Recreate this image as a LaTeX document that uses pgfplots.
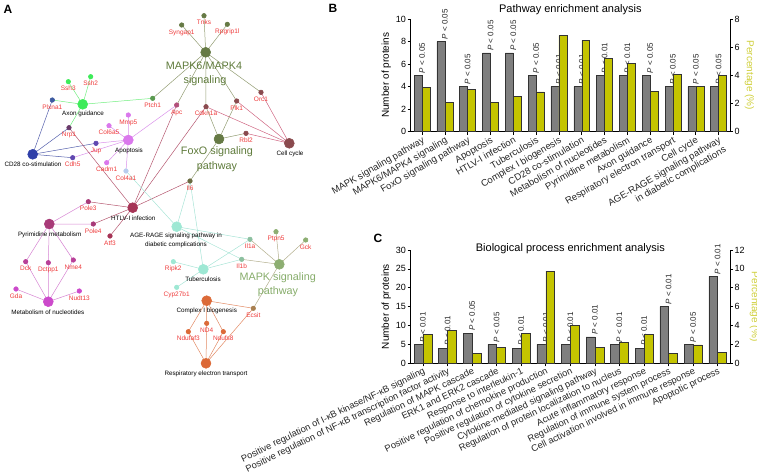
\documentclass[border=0pt]{standalone}
\usepackage{pgfplots}
\pgfplotsset{compat=1.18}
\usepackage{pgfplotstable}
\usepackage{fontspec}
\setmainfont{Liberation Sans}

% network colours
\definecolor{olv}{HTML}{667A45}
\definecolor{olvtxt}{HTML}{5E7A3A}
\definecolor{olvedge}{HTML}{929C72}
\definecolor{grn}{HTML}{3EEB5A}
\definecolor{grnedge}{HTML}{72EE80}
\definecolor{blu}{HTML}{2F3FA8}
\definecolor{bluedge}{HTML}{5560AC}
\definecolor{vio}{HTML}{DA78EC}
\definecolor{vioedge}{HTML}{DA92EA}
\definecolor{crm}{HTML}{A63456}
\definecolor{crmedge}{HTML}{B4566E}
\definecolor{ccedge}{HTML}{CF6682}
\definecolor{dkr}{HTML}{8A4A4E}
\definecolor{pmg}{HTML}{A83A78}
\definecolor{pmgn}{HTML}{B84098}
\definecolor{mgt}{HTML}{CC4ACB}
\definecolor{mgtedge}{HTML}{D684D2}
\definecolor{cyn}{HTML}{9EE8D4}
\definecolor{cynedge}{HTML}{A8E4D6}
\definecolor{lgr}{HTML}{8DAE72}
\definecolor{lgrtxt}{HTML}{86AC6A}
\definecolor{lgredge}{HTML}{B2AE8C}
\definecolor{org}{HTML}{DC6A38}
\definecolor{orgedge}{HTML}{E28A64}
\definecolor{ptc}{HTML}{5A9A50}
\definecolor{apc}{HTML}{B2507A}
\definecolor{nrp}{HTML}{6A3A6A}
\definecolor{jup}{HTML}{6048B0}
\definecolor{c4a}{HTML}{B8CCEE}
\definecolor{il6}{HTML}{6A6A40}
\definecolor{il1}{HTML}{8CC0A0}
\definecolor{ecs}{HTML}{A88050}
\definecolor{plx}{HTML}{3D5AA0}
\definecolor{genred}{HTML}{EE3B3B}
% bar colours
\definecolor{barg}{HTML}{7F7F7F}
\definecolor{bary}{HTML}{C4C400}
\definecolor{bard}{HTML}{333333}
\definecolor{ylab}{HTML}{CFCF3A}

\pgfplotsset{/pgf/number format/assume math mode=true}

\newcommand{\genefont}{\fontsize{6.5}{7.5}\selectfont}
\newcommand{\hubfont}{\fontsize{6.3}{7.5}\selectfont}
\newcommand{\bigfont}{\fontsize{10.8}{13}\selectfont}

% gene nodes (pixel coordinates)
\pgfplotstableread{
x y c lab
204 15.7 ol Tnks
181.7 25 ol Syngap1
227.3 24.3 ol Rpgrip1l
68.3 81.7 gr Ssh3
90.7 76.7 gr Ssh2
52.3 100 px Plxna1
152.7 98.3 pt Ptch1
176.7 105 ap Apc
206 106.7 dk Cdkn1a
236.7 101 dk Plk1
261 92.3 dk Orc1
246 133.3 dk Rbl2
69 127.7 nr Nrp1
128.3 115 vi Mmp5
109 125.7 vi Col6a5
96 143.3 ju Jup
72.7 157.7 ju Cdh5
106.7 162.7 vi Cadm1
126 171 ca Col4a1
190 181 i6 Il6
88.3 201.7 pm Pole3
93.3 224 pm Pole4
110 236 cr Atf3
25.7 261.7 pn Dck
48.3 262.7 pn Dctpp1
73.3 260 pn Nme4
16 289 mg Gda
79.3 291 mg Nudt13
173.3 261.7 cy Ripk2
176.7 287.3 cy Cyp27b1
250 239.3 i1 Il1a
241.7 259.3 i1 Il1b
276 231.7 lg Ptpn5
305.7 240 lg Gck
253.3 308.3 ec Ecsit
206.7 323.3 or ND4
188.3 331.7 or Ndufaf3
223.3 331.7 or Ndufs8
}\genes

% hub nodes
\pgfplotstableread{
x y c
205.7 52.3 ol
82.7 104.3 gr
289.3 143.3 dk
219 139 ol
128.3 140 vi
32.7 154.3 bl
132.7 207.7 cr
49.3 224 pm
176.7 226.7 cy
48.3 301.7 mg
203.3 269.3 cy
279.3 264.3 lg
206.7 300.7 or
206 363.3 or
}\hubs

% panel B
\pgfplotstableread{
x n pc p
0 5 3.15 0.05
1 8 2.08 0.05
2 4 3.03 0.05
3 7 2.08 0.05
4 7 2.49 0.05
5 5 2.82 0.05
6 4 6.82 0.01
7 4 6.49 0.01
8 5 5.20 0.01
9 5 4.85 0.01
10 5 2.86 0.05
11 4 4.07 0.05
12 4 3.22 0.05
13 4 4.02 0.05
}\pathway

% panel C
\pgfplotstableread{
x n pc p
0 5 3.03 0.01
1 4 3.45 0.01
2 8 1.09 0.05
3 5 1.72 0.05
4 4 3.20 0.01
5 5 9.75 0.01
6 5 4.05 0.01
7 7 1.69 0.01
8 5 2.25 0.01
9 4 3.03 0.01
10 15 1.09 0.01
11 5 1.94 0.05
12 23 1.16 0.01
}\process

\pgfplotsset{
  barbase/.style={
    scale only axis, clip=false,
    width=319.3pt,
    xmin=-0.5, ymin=0,
    tick align=outside, major tick length=3pt,
    tick style={black, line width=0.6pt},
    axis line style={line width=0.6pt},
    yticklabel style={font=\fontsize{9}{10}\selectfont, inner sep=1.5pt},
    ylabel style={font=\fontsize{10}{12}\selectfont},
    every axis title shift=0pt,
  },
  pannot/.style={
    nodes near coords={\textit{P} < \pgfplotspointmeta},
    point meta=explicit symbolic,
    every node near coord/.append style={rotate=90, anchor=west,
      font=\fontsize{8}{9}\selectfont, inner sep=2pt, text=black!85},
  },
}

\begin{document}
\begin{tikzpicture}

% ---------------- A: network ----------------
\begin{axis}[at={(0,0)}, anchor=south west, width=757pt, height=475pt,
  scale only axis, xmin=0, xmax=757, ymin=0, ymax=475, y dir=reverse,
  hide axis, clip=false,
  every axis plot/.append style={line width=0.5pt, line join=round}]

\addplot[olvedge] coordinates {(205.7,52.3)(204,15.7)(205.7,52.3)(181.7,25)(205.7,52.3)(227.3,24.3)(205.7,52.3)(152.7,98.3)(205.7,52.3)(176.7,105)(205.7,52.3)(206,106.7)(205.7,52.3)(236.7,101)(205.7,52.3)(261,92.3)};
\addplot[olvedge] coordinates {(219,139)(206,106.7)(219,139)(236.7,101)(219,139)(246,133.3)(219,139)(190,181)};
\addplot[ccedge] coordinates {(289.3,143.3)(261,92.3)(289.3,143.3)(236.7,101)(289.3,143.3)(206,106.7)(289.3,143.3)(246,133.3)};
\addplot[grnedge] coordinates {(82.7,104.3)(68.3,81.7)(82.7,104.3)(90.7,76.7)(82.7,104.3)(52.3,100)(82.7,104.3)(152.7,98.3)(82.7,104.3)(69,127.7)};
\addplot[bluedge] coordinates {(32.7,154.3)(52.3,100)(32.7,154.3)(69,127.7)(32.7,154.3)(96,143.3)(32.7,154.3)(72.7,157.7)};
\addplot[vioedge] coordinates {(128.3,140)(128.3,115)(128.3,140)(109,125.7)(128.3,140)(96,143.3)(128.3,140)(72.7,157.7)(128.3,140)(106.7,162.7)(128.3,140)(126,171)(128.3,140)(176.7,105)};
\addplot[crmedge] coordinates {(132.7,207.7)(69,127.7)(132.7,207.7)(176.7,105)(132.7,207.7)(206,106.7)(132.7,207.7)(190,181)(132.7,207.7)(88.3,201.7)(132.7,207.7)(93.3,224)(132.7,207.7)(110,236)};
\addplot[mgtedge] coordinates {(49.3,224)(88.3,201.7)(49.3,224)(93.3,224)(49.3,224)(25.7,261.7)(49.3,224)(48.3,262.7)(49.3,224)(73.3,260)};
\addplot[mgtedge] coordinates {(48.3,301.7)(25.7,261.7)(48.3,301.7)(48.3,262.7)(48.3,301.7)(73.3,260)(48.3,301.7)(16,289)(48.3,301.7)(79.3,291)};
\addplot[cynedge] coordinates {(176.7,226.7)(126,171)(176.7,226.7)(190,181)(176.7,226.7)(250,239.3)(176.7,226.7)(241.7,259.3)};
\addplot[cynedge] coordinates {(203.3,269.3)(190,181)(203.3,269.3)(250,239.3)(203.3,269.3)(241.7,259.3)(203.3,269.3)(173.3,261.7)(203.3,269.3)(176.7,287.3)};
\addplot[lgredge] coordinates {(279.3,264.3)(250,239.3)(279.3,264.3)(241.7,259.3)(279.3,264.3)(276,231.7)(279.3,264.3)(305.7,240)(279.3,264.3)(253.3,308.3)};
\addplot[orgedge] coordinates {(206.7,300.7)(206.7,323.3)(206.7,300.7)(188.3,331.7)(206.7,300.7)(223.3,331.7)(206.7,300.7)(253.3,308.3)};
\addplot[orgedge] coordinates {(206,363.3)(206.7,323.3)(206,363.3)(188.3,331.7)(206,363.3)(223.3,331.7)(206,363.3)(253.3,308.3)};

% gene nodes
\addplot[scatter, only marks, mark=*, mark size=2.3pt,
  scatter src=explicit symbolic,
  scatter/classes={
    ol={mark=*,olv}, gr={mark=*,grn}, px={mark=*,plx}, pt={mark=*,ptc},
    ap={mark=*,apc}, dk={mark=*,dkr}, nr={mark=*,nrp}, vi={mark=*,vio},
    ju={mark=*,jup}, ca={mark=*,c4a}, i6={mark=*,il6}, pm={mark=*,pmg},
    cr={mark=*,crm}, pn={mark=*,pmgn}, mg={mark=*,mgt}, cy={mark=*,cyn},
    i1={mark=*,il1}, lg={mark=*,lgr}, ec={mark=*,ecs}, or={mark=*,org}}]
  table[x=x, y=y, meta=c]{\genes};

% hub nodes
\addplot[scatter, only marks, mark=*, mark size=5pt,
  scatter src=explicit symbolic,
  scatter/classes={
    ol={mark=*,olv}, gr={mark=*,grn}, dk={mark=*,dkr}, vi={mark=*,vio},
    bl={mark=*,blu}, cr={mark=*,crm}, pm={mark=*,pmg}, cy={mark=*,cyn},
    mg={mark=*,mgt}, lg={mark=*,lgr}, or={mark=*,org}}]
  table[x=x, y=y, meta=c]{\hubs};

% gene labels
\addplot[only marks, mark=none, point meta=explicit symbolic, nodes near coords,
  every node near coord/.append style={font=\genefont, text=genred, anchor=center,
    yshift=-7.5pt, inner sep=0pt, text height=4.7pt, text depth=1.3pt}]
  table[x=x, y=y, meta=lab]{\genes};

% hub labels
\node[font=\hubfont] at (axis cs:83,114) {Axon guidance};
\node[font=\hubfont] at (axis cs:33,164.3) {CD28 co-stimulation};
\node[font=\hubfont] at (axis cs:129,150.7) {Apoptosis};
\node[font=\hubfont] at (axis cs:290,153.7) {Cell cycle};
\node[font=\hubfont] at (axis cs:133.3,218.3) {HTLV-I infection};
\node[font=\hubfont] at (axis cs:49.7,235) {Pyrimidine metabolism};
\node[font=\hubfont] at (axis cs:176,236) {AGE-RAGE signaling pathway in};
\node[font=\hubfont] at (axis cs:176,245) {diabetic complications};
\node[font=\hubfont] at (axis cs:47.8,312.3) {Metabolism of nucleotides};
\node[font=\hubfont] at (axis cs:203,279.3) {Tuberculosis};
\node[font=\hubfont] at (axis cs:206.8,310.7) {Complex I biogenesis};
\node[font=\hubfont] at (axis cs:206,373.7) {Respiratory electron transport};
\node[font=\bigfont, text=olvtxt] at (axis cs:204,65.7) {MAPK6/MAPK4};
\node[font=\bigfont, text=olvtxt] at (axis cs:205,80.7) {signaling};
\node[font=\bigfont, text=olvtxt] at (axis cs:217,152) {FoxO signaling};
\node[font=\bigfont, text=olvtxt] at (axis cs:217,167) {pathway};
\node[font=\bigfont, text=lgrtxt] at (axis cs:277.7,277.7) {MAPK signaling};
\node[font=\bigfont, text=lgrtxt] at (axis cs:278,292) {pathway};

% panel letters
\node[font=\bfseries\fontsize{12}{14}\selectfont] at (axis cs:8,9) {A};
\node[font=\bfseries\fontsize{12}{14}\selectfont] at (axis cs:333,8) {B};
\node[font=\bfseries\fontsize{12}{14}\selectfont] at (axis cs:378,238) {C};
\end{axis}

% ---------------- B: pathway enrichment ----------------
\begin{axis}[barbase, at={(410.7pt,343.3pt)}, anchor=south west, height=112.7pt,
  xmax=13.5, ymax=10, ytick={0,2,...,10},
  axis x line*=bottom, axis y line*=left,
  xtick={0,...,13},
  xticklabels={MAPK signaling pathway, MAPK6/MAPK4 signaling, FoxO signaling pathway,
    Apoptosis, HTLV-I infection, Tuberculosis, Complex I biogenesis, CD28 co-stimulation,
    Metabolism of nucleotides, Pyrimidine metabolism, Axon guidance,
    Respiratory electron transport, Cell cycle,
    {AGE-RAGE signaling pathway\\in diabetic complications}},
  xticklabel style={rotate=30, anchor=north east, align=right,
    font=\fontsize{9.5}{10.5}\selectfont, inner sep=1pt, text=black!85},
  ylabel={Number of proteins},
  title={Pathway enrichment analysis},
  title style={font=\fontsize{11}{13}\selectfont, at={(0.5,1)}, anchor=south, yshift=3.5pt, inner sep=1pt}]
\addplot[ybar, bar width=0.35, bar shift=-0.175, fill=barg, draw=bard, line width=0.5pt, pannot]
  table[x=x, y=n, meta=p]{\pathway};
\end{axis}
\begin{axis}[barbase, at={(410.7pt,343.3pt)}, anchor=south west, height=112.7pt,
  xmax=13.5, ymax=8, ytick={0,2,...,8},
  axis y line*=right, axis x line=none,
  ylabel={Percentage (\%)},
  ylabel style={rotate=180, text=ylab}]
\addplot[ybar, bar width=0.35, bar shift=0.175, fill=bary, draw=bard, line width=0.5pt]
  table[x=x, y=pc]{\pathway};
\end{axis}

% ---------------- C: biological process enrichment ----------------
\begin{axis}[barbase, at={(410.7pt,111.7pt)}, anchor=south west, height=113.3pt,
  xmax=12.5, ymax=30, ytick={0,5,...,30},
  axis x line*=bottom, axis y line*=left,
  xtick={0,...,12},
  xticklabels={Positive regulation of I-κB kinase/NF-κB signaling,
    Positive regulation of NF-κB transcription factor activity,
    Regulation of MAPK cascade, ERK1 and ERK2 cascade, Response to interleukin-1,
    Positive regulation of chemokine production, Positive regulation of cytokine secretion,
    Cytokine-mediated signaling pathway, Regulation of protein localization to nucleus,
    Acute inflammatory response, Regulation of immune system process,
    Cell activation involved in immune response, Apoptotic process},
  xticklabel style={rotate=26, anchor=north east,
    font=\fontsize{9.3}{10.3}\selectfont, inner sep=0.5pt, text=black!85},
  ylabel={Number of proteins},
  title={Biological process enrichment analysis},
  title style={font=\fontsize{11}{13}\selectfont, at={(0.5,1)}, anchor=south, yshift=-5pt, inner sep=1pt}]
\addplot[ybar, bar width=0.36, bar shift=-0.18, fill=barg, draw=bard, line width=0.5pt, pannot]
  table[x=x, y=n, meta=p]{\process};
\end{axis}
\begin{axis}[barbase, at={(410.7pt,111.7pt)}, anchor=south west, height=113.3pt,
  xmax=12.5, ymax=12, ytick={0,2,...,12},
  axis y line*=right, axis x line=none,
  ylabel={Percentage (\%)},
  ylabel style={rotate=180, text=ylab}]
\addplot[ybar, bar width=0.36, bar shift=0.18, fill=bary, draw=bard, line width=0.5pt]
  table[x=x, y=pc]{\process};
\end{axis}

\pgfresetboundingbox
\useasboundingbox (0,0) rectangle (757pt,475pt);
\end{tikzpicture}
\end{document}
